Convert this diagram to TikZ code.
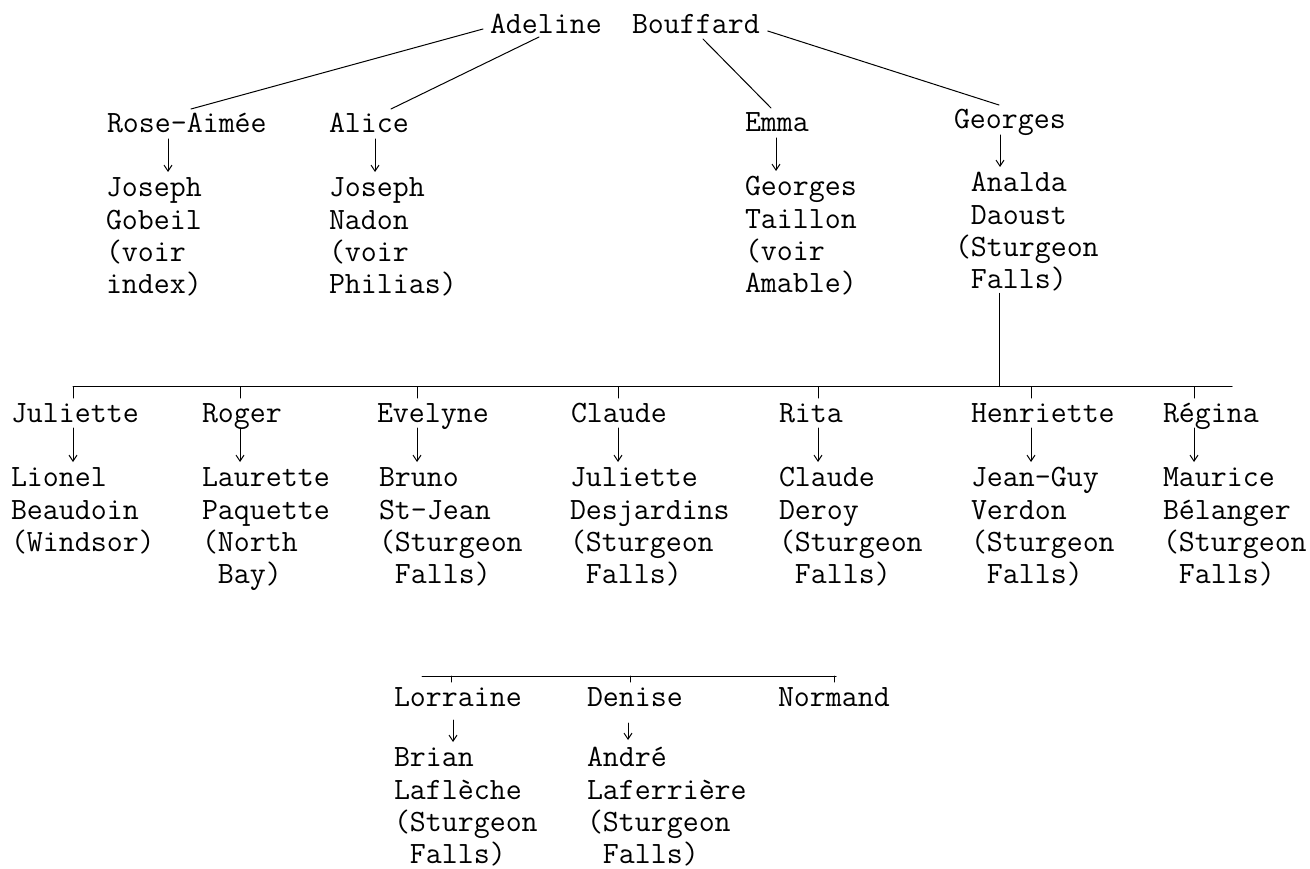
\documentclass[tikz,border=0pt]{standalone}
\usetikzlibrary{arrows.meta,calc}
\begin{document}
\begin{tikzpicture}[x=1pt,y=-1pt,
  every node/.style={inner sep=0pt, font=\ttfamily\fontsize{31}{32.1}\selectfont},
  nm/.style={anchor=base west, text height=19pt, text depth=1pt, outer xsep=0pt, outer ysep=5pt},
  sp/.style={anchor=north west, align=left, outer xsep=0pt, outer ysep=2.5pt},
  ln/.style={line width=1pt, line cap=round},
  arr/.style={ln, -{Straight Barb[length=6pt,width=8pt,line width=1pt]}}]
\useasboundingbox[fill=white] (0,0) rectangle (1310,869);
\newcommand{\ind}{\hphantom{(}}
% generation 1
\node[nm] (adel) at (490,34) {Adeline};
\node[nm] (bouf) at (632,34) {Bouffard};
% generation 2
\node[nm] (rose) at (107,133) {Rose-Aimée};
\node[nm] (alice) at (329,133) {Alice};
\node[nm] (emma) at (745,132) {Emma};
\node[nm] (georges) at (954,129) {Georges};
\node[sp] (gobeil) at (106,172) {\strut Joseph\\Gobeil\\(voir\\index)};
\node[sp] (nadon) at (329,172) {\strut Joseph\\Nadon\\(voir\\Philias)};
\node[sp] (taillon) at (745,171) {\strut Georges\\Taillon\\(voir\\Amable)};
\node[sp] (daoust) at (955,167) {\strut\ind Analda\\\ind Daoust\\(Sturgeon\\\ind Falls)};
\draw[ln] ($(adel.base west)+(-7,-5)$) -- ($(rose.north west)+(84,0)$);
\draw[ln] ($(adel.base west)+(49,3)$) -- ($(alice.north west)+(62,0)$);
\draw[ln] ($(bouf.base west)+(71,5)$) -- ($(emma.north west)+(26,0)$);
\draw[ln] ($(bouf.base east)+(8,-3)$) -- ($(georges.north west)+(45,0)$);
\draw[arr] (rose.south -| 168,0) -- (gobeil.north -| 168,0);
\draw[arr] (alice.south -| 375,0) -- (nadon.north -| 375,0);
\draw[arr] (emma.south -| 776,0) -- (taillon.north -| 776,0);
\draw[arr] (georges.south -| 1000,0) -- (daoust.north -| 1000,0);
% generation 3
\coordinate (barL) at (73,386.5);
\coordinate (barR) at (1232,386.5);
\draw[ln] (barL) -- (barR);
\draw[ln] (daoust.south -| 999,0) -- (barL -| 999,0);
\node[nm] (c1) at (11,422) {Juliette};
\node[nm] (c2) at (202,422) {Roger};
\node[nm] (c3) at (377,422) {Evelyne};
\node[nm] (c4) at (571,422) {Claude};
\node[nm] (c5) at (779,422) {Rita};
\node[nm] (c6) at (971,422) {Henriette};
\node[nm] (c7) at (1163,422) {Régina};
\node[sp] (s1) at (11,462) {\strut Lionel\\Beaudoin\\(Windsor)};
\node[sp] (s2) at (202,462) {\strut Laurette\\Paquette\\(North\\\ind Bay)};
\node[sp] (s3) at (379,462) {\strut Bruno\\St-Jean\\(Sturgeon\\\ind Falls)};
\node[sp] (s4) at (570,462) {\strut Juliette\\Desjardins\\(Sturgeon\\\ind Falls)};
\node[sp] (s5) at (779,462) {\strut Claude\\Deroy\\(Sturgeon\\\ind Falls)};
\node[sp] (s6) at (971,462) {\strut Jean-Guy\\Verdon\\(Sturgeon\\\ind Falls)};
\node[sp] (s7) at (1163,462) {\strut Maurice\\Bélanger\\(Sturgeon\\\ind Falls)};
\foreach \c/\s/\x in {c1/s1/73,c2/s2/240,c3/s3/417,c4/s4/618,c5/s5/818,c6/s6/1031,c7/s7/1194}{
  \draw[ln] (barL -| \x,0) -- (\c.north -| \x,0);
  \draw[arr] (\c.south -| \x,0) -- (\s.north -| \x,0);
}
% generation 4
\coordinate (bbL) at (422,676);
\coordinate (bbR) at (836,676);
\draw[ln] (bbL) -- (bbR);
\node[nm] (g1) at (394,706) {Lorraine};
\node[nm] (g2) at (587,706) {Denise};
\node[nm] (g3) at (778,706) {Normand};
\node[sp] (h1) at (394,742) {\strut Brian\\Laflèche\\(Sturgeon\\\ind Falls)};
\node[sp] (h2) at (587,742) {\strut André\\Laferrière\\(Sturgeon\\\ind Falls)};
\draw[ln] (bbL -| 451,0) -- (g1.north -| 451,0);
\draw[ln] (bbL -| 630,0) -- (g2.north -| 630,0);
\draw[ln] (bbL -| 834,0) -- (g3.north -| 834,0);
\draw[arr, shorten <=8pt] (g1.south -| 453,0) -- (h1.north -| 453,0);
\draw[arr, shorten <=11pt, shorten >=2pt] (g2.south -| 628,0) -- (h2.north -| 628,0);
\end{tikzpicture}
\end{document}
